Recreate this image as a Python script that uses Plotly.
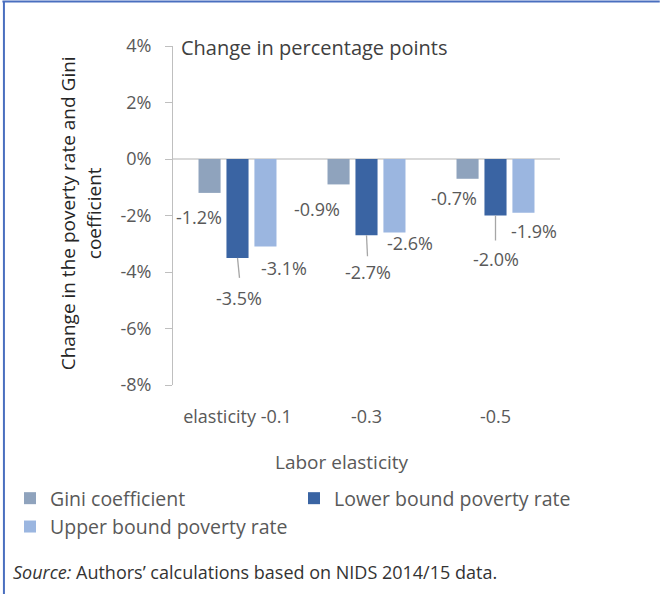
import plotly.graph_objects as go

# Data (change in percentage points)
categories = ["elasticity -0.1", "-0.3", "-0.5"]
gini = [-1.2, -0.9, -0.7]
lower_bound = [-3.5, -2.7, -2.0]
upper_bound = [-3.1, -2.6, -1.9]
y_ticks = [4, 2, 0, -2, -4, -6, -8]

# Canvas and plot-area geometry (px)
W, H = 660, 594
PL, PR, PT, PB = 172, 560, 46, 385

def xp(px):
    return (px - PL) / (PR - PL)

def yp(py):
    return (PB - py) / (PB - PT)

BARGAP = 0.35
GROUPGAP = 0.21
SLOT = (1 - BARGAP) / 3

TXT = "#595959"
FONT = "Open Sans"

series = [
    ("Gini coefficient", gini, "#8FA3BD", "legend"),
    ("Lower bound poverty rate", lower_bound, "#3A64A3", "legend2"),
    ("Upper bound poverty rate", upper_bound, "#9BB6E0", "legend"),
]

# label offsets from the bar end (dx right, dy down), px
label_offsets = [
    [(-11, 24), (-22, 25), (-14, 19)],
    [(1, 40), (1, 37), (0, 43)],
    [(19, 21), (16, 11), (11, 18)],
]
# leader lines under the lower-bound bars: (length, horizontal drift), px
leaders = [(20, 2), (21, 1), (25, 0)]

fig = go.Figure()
for name, vals, color, leg in series:
    fig.add_trace(go.Bar(
        name=name, x=categories, y=vals, legend=leg,
        marker=dict(color=color, line=dict(width=0)),
    ))

annotations = []
shapes = []
for k, (name, vals, color, leg) in enumerate(series):
    for i, v in enumerate(vals):
        dx, dy = label_offsets[k][i]
        annotations.append(dict(
            x=i + (k - 1) * SLOT, y=v, xref="x", yref="y",
            text=f"{v:.1f}%", showarrow=False,
            xanchor="center", yanchor="middle",
            xshift=dx, yshift=-dy,
            font=dict(family=FONT, size=18, color=TXT),
        ))

for i, v in enumerate(lower_bound):
    length, drift = leaders[i]
    shapes.append(dict(
        type="line", xref="x", yref="y",
        xsizemode="pixel", xanchor=i, x0=0, x1=drift,
        ysizemode="pixel", yanchor=v, y0=0, y1=-length,
        line=dict(color="#A6A6A6", width=1.3),
    ))

# blue frame along top and left edges
shapes.append(dict(type="line", xref="paper", yref="paper",
                   x0=xp(1), x1=xp(W), y0=yp(1.5), y1=yp(1.5),
                   line=dict(color="#4A6FBF", width=2)))
shapes.append(dict(type="line", xref="paper", yref="paper",
                   x0=xp(2.5), x1=xp(2.5), y0=yp(1), y1=yp(H),
                   line=dict(color="#4A6FBF", width=2)))

annotations += [
    dict(x=xp(178), y=yp(48), xref="paper", yref="paper",
         text="Change in percentage points", showarrow=False,
         xanchor="left", yanchor="middle",
         font=dict(family=FONT, size=20, color="#404040")),
    dict(x=xp(67), y=yp(213), xref="paper", yref="paper",
         text="Change in the poverty rate and Gini", showarrow=False,
         textangle=-90, xanchor="center", yanchor="middle",
         font=dict(family=FONT, size=19, color="#262626")),
    dict(x=xp(93), y=yp(213), xref="paper", yref="paper",
         text="coefficient", showarrow=False,
         textangle=-90, xanchor="center", yanchor="middle",
         font=dict(family=FONT, size=19, color="#262626")),
    dict(x=xp(341), y=yp(462), xref="paper", yref="paper",
         text="Labor elasticity", showarrow=False,
         xanchor="center", yanchor="middle",
         font=dict(family=FONT, size=19, color=TXT)),
    dict(x=xp(10), y=yp(572), xref="paper", yref="paper",
         text="<i>Source:</i> Authors\u2019 calculations based on NIDS 2014/15 data.",
         showarrow=False, xanchor="left", yanchor="middle",
         font=dict(family=FONT, size=18, color="#333333")),
]

legend_style = dict(
    orientation="v", xanchor="left", yanchor="top",
    font=dict(family=FONT, size=19.5, color=TXT),
    bgcolor="rgba(0,0,0,0)", itemclick=False, itemdoubleclick=False,
)

fig.update_layout(
    width=W, height=H,
    margin=dict(l=PL, r=W - PR, t=PT, b=H - PB, pad=0),
    paper_bgcolor="white", plot_bgcolor="white",
    barmode="group", bargap=BARGAP, bargroupgap=GROUPGAP,
    font=dict(family=FONT, color=TXT),
    showlegend=True,
    legend=dict(x=xp(10), y=yp(479), **legend_style),
    legend2=dict(x=xp(294), y=yp(479), **legend_style),
    xaxis=dict(
        type="category", range=[-0.5, 2.5], showline=False, showgrid=False,
        ticks="", ticklabelstandoff=19,
        tickfont=dict(family=FONT, size=18, color=TXT),
        zeroline=False,
    ),
    yaxis=dict(
        range=[-8, 4], tickvals=y_ticks, ticktext=[f"{v}%" for v in y_ticks],
        showline=True, linecolor="#BFBFBF", linewidth=1,
        ticks="outside", ticklen=7, tickcolor="#BFBFBF", tickwidth=1,
        showgrid=False, zeroline=True, zerolinecolor="#D9D9D9", zerolinewidth=1.5,
        ticklabelstandoff=10,
        tickfont=dict(family=FONT, size=18, color=TXT),
    ),
    annotations=annotations,
    shapes=shapes,
)

fig.write_html("out.html")
